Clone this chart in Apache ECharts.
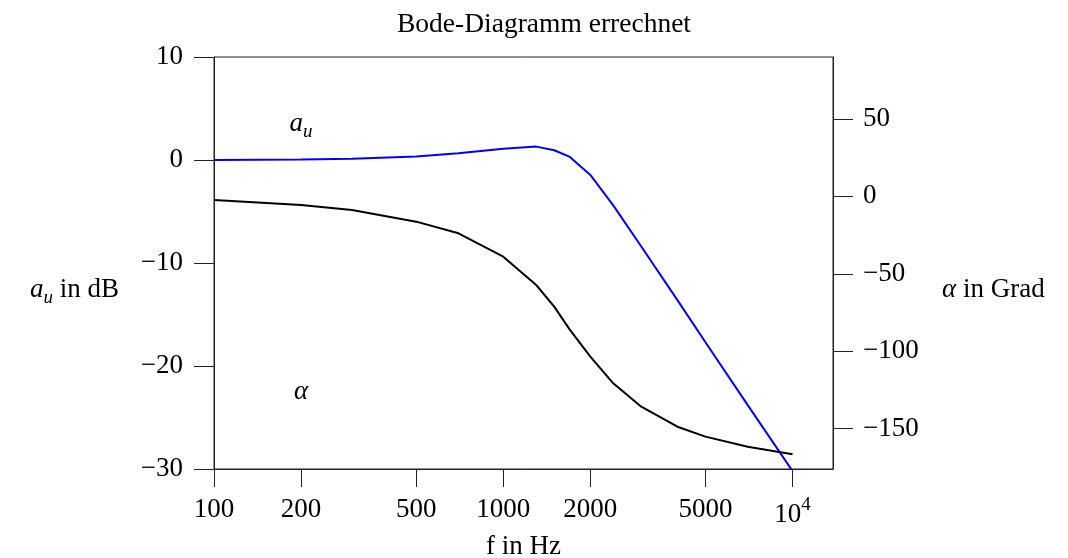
<!DOCTYPE html>
<html>
<head>
<meta charset="utf-8">
<script src="https://cdn.jsdelivr.net/npm/echarts@6/dist/echarts.min.js"></script>
<style>
html, body { margin: 0; padding: 0; background: #fff; }
#chart { width: 1068px; height: 558px; }
</style>
</head>
<body>
<div id="chart"></div>
<script>
// Frequenzen in Hz
const freq = [100, 200, 300, 500, 700, 1000, 1300, 1500, 1700, 2000, 2400, 3000, 4000, 5000, 7000, 10000];
// Betrag a_u in dB
const gainDb = [0.0, 0.05, 0.12, 0.35, 0.65, 1.1, 1.3, 0.95, 0.3, -1.45, -4.4, -8.4, -13.6, -17.7, -23.8, -30.2];
// Phase alpha in Grad
const phaseDeg = [-2.3, -5.6, -8.8, -16.3, -23.8, -38.9, -57.2, -71.2, -86.2, -103.5, -120.7, -135.8, -148.7, -155.1, -161.6, -166.5];
// Achsenbeschriftung
const xTicks = [100, 200, 500, 1000, 2000, 5000, 10000];
const yRightTicks = [-150, -100, -50, 0, 50];

const font = 'Liberation Serif';
const fs = 27;
const minus = v => String(v).replace('-', '\u2212');

let gainData = freq.map((f, i) => [f, gainDb[i]]);
let phaseData = freq.map((f, i) => [f, phaseDeg[i]]);

let labelRich = {
  i: { fontFamily: font, fontStyle: 'italic', fontSize: fs, color: '#000' },
  s: { fontFamily: font, fontStyle: 'italic', fontSize: 19, color: '#000', padding: [16, 0, 0, 0] },
  r: { fontFamily: font, fontSize: fs, color: '#000' }
};

let myChart = echarts.init(document.getElementById('chart'));
let option = {
  backgroundColor: '#fff',
  animation: false,
  title: {
    text: 'Bode-Diagramm errechnet',
    left: 539,
    textAlign: 'center',
    top: 6,
    textStyle: { fontFamily: font, fontWeight: 'normal', fontSize: 27.5, color: '#000' }
  },
  grid: {
    left: 214, top: 57, right: 235, bottom: 89,
    outerBoundsMode: 'none',
    containLabel: false,
    show: true, borderColor: '#222', borderWidth: 1
  },
  xAxis: {
    type: 'log',
    logBase: 10,
    min: 100,
    max: 13800,
    name: 'f in Hz',
    nameLocation: 'middle',
    nameGap: 64,
    nameTextStyle: { fontFamily: font, fontSize: fs, color: '#000' },
    axisLine: { onZero: false, lineStyle: { color: '#222', width: 1 } },
    axisTick: { customValues: xTicks, length: 18, lineStyle: { color: '#222' } },
    minorTick: { show: false },
    splitLine: { show: false },
    axisLabel: {
      customValues: xTicks,
      margin: 27,
      fontFamily: font, fontSize: fs, color: '#000',
      formatter: v => v === 10000 ? '{b|10}{sup|4}' : String(v),
      rich: {
        b: { fontFamily: font, fontSize: fs, color: '#000' },
        sup: { fontFamily: font, fontSize: 19, color: '#000', padding: [0, 0, 18, 0] }
      }
    }
  },
  yAxis: [{
    type: 'value',
    min: -30,
    max: 10,
    interval: 10,
    name: '{i|a}{s|u}{r| in dB}',
    nameLocation: 'middle',
    nameRotate: 0,
    nameGap: 95,
    nameTextStyle: { rich: labelRich, padding: [54, 0, 0, 0] },
    axisLine: { show: true, lineStyle: { color: '#222', width: 1 } },
    axisTick: { length: 20, lineStyle: { color: '#222' } },
    splitLine: { show: false },
    axisLabel: { margin: 31, fontFamily: font, fontSize: fs, color: '#000', formatter: minus }
  }, {
    type: 'value',
    min: -176,
    max: 90,
    position: 'right',
    name: '{i|\u03b1}{r| in Grad}',
    nameLocation: 'middle',
    nameRotate: 0,
    nameGap: 109,
    nameTextStyle: { rich: labelRich, padding: [54, 0, 0, 0] },
    axisLine: { show: true, lineStyle: { color: '#222', width: 1 } },
    axisTick: { customValues: yRightTicks, length: 20, lineStyle: { color: '#222' } },
    splitLine: { show: false },
    axisLabel: { customValues: yRightTicks, margin: 30, fontFamily: font, fontSize: fs, color: '#000', formatter: minus }
  }],
  series: [{
    name: 'a_u',
    type: 'line',
    data: gainData,
    showSymbol: false,
    smooth: false,
    lineStyle: { color: '#0000ff', width: 2 },
    markPoint: {
      silent: true,
      symbol: 'circle',
      symbolSize: 0,
      label: { show: true, position: 'inside', formatter: '{i|a}{s|u}', rich: labelRich },
      data: [{ coord: [200, 3.5] }]
    }
  }, {
    name: 'alpha',
    type: 'line',
    yAxisIndex: 1,
    data: phaseData,
    showSymbol: false,
    smooth: false,
    lineStyle: { color: '#000', width: 2 },
    markPoint: {
      silent: true,
      symbol: 'circle',
      symbolSize: 0,
      label: { show: true, position: 'inside', formatter: '{i|\u03b1}', rich: labelRich },
      data: [{ coord: [200, -126] }]
    }
  }]
};
myChart.setOption(option);
</script>
</body>
</html>
